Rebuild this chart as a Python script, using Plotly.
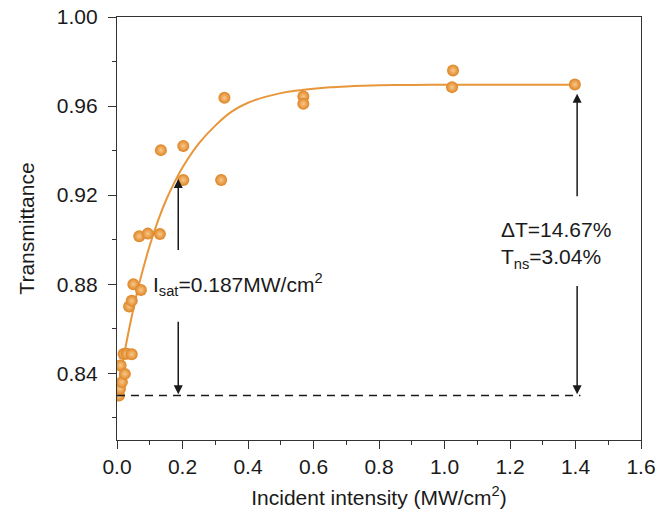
import plotly.graph_objects as go

# measured points
intensity = [0.006, 0.009, 0.011, 0.015, 0.024, 0.020, 0.030, 0.045, 0.037, 0.045,
             0.050, 0.073, 0.068, 0.094, 0.131, 0.134, 0.2025, 0.2025, 0.318, 0.328,
             0.569, 0.569, 1.023, 1.026, 1.398]
transmittance = [0.830, 0.833, 0.8435, 0.836, 0.8397, 0.8486, 0.8487, 0.8485, 0.870, 0.8725,
                 0.880, 0.8774, 0.9015, 0.9027, 0.9025, 0.9402, 0.9421, 0.9268, 0.9268, 0.9637,
                 0.9643, 0.961, 0.9685, 0.976, 0.9697]

# fit curve
fit_x = [0.0, 0.02, 0.04, 0.06, 0.08, 0.10, 0.125, 0.15, 0.175, 0.20, 0.25, 0.30,
         0.35, 0.40, 0.45, 0.50, 0.55, 0.60, 0.65, 0.70, 0.75, 0.80, 0.90, 1.00, 1.20, 1.41]
fit_y = [0.8296, 0.847, 0.862, 0.8755, 0.887, 0.8974, 0.9084, 0.9178, 0.9256, 0.9324, 0.9432, 0.9512,
         0.9575, 0.9615, 0.964, 0.9658, 0.967, 0.9678, 0.9684, 0.9688, 0.9691, 0.9693, 0.9695, 0.9696, 0.9696,
         0.9696]

baseline = 0.83
i_sat = 0.187
x_arrow = 1.405
x_dash_end = 1.415

orange_line = '#E8963A'
ink = '#1a1a1a'
font = 'Arial, Liberation Sans, sans-serif'
fsize = 21

fig = go.Figure()
fig.add_trace(go.Scatter(x=fit_x, y=fit_y, mode='lines',
                         line=dict(color=orange_line, width=2, shape='spline', smoothing=0.8),
                         hoverinfo='skip'))
fig.add_trace(go.Scatter(x=intensity, y=transmittance, mode='markers',
                         marker=dict(size=12, color='#DE8423', line=dict(width=0),
                                     gradient=dict(type='radial', color='#F9C88A'))))
fig.add_trace(go.Scatter(x=[0, x_dash_end], y=[baseline, baseline], mode='lines',
                         line=dict(color=ink, width=1.5, dash='8px,6px'), hoverinfo='skip'))

arrows = [
    (i_sat, 0.9272, i_sat, 0.8947),
    (i_sat, 0.8306, i_sat, 0.8638),
    (x_arrow, 0.9655, x_arrow, 0.9188),
    (x_arrow, 0.8306, x_arrow, 0.8798),
]
for x, y, ax, ay in arrows:
    fig.add_annotation(x=x, y=y, ax=ax, ay=ay, xref='x', yref='y', axref='x', ayref='y',
                       text='', showarrow=True, arrowhead=2, arrowsize=1.2, arrowwidth=1.5, arrowcolor=ink)

fig.add_annotation(x=0.105, y=0.8798, xref='x', yref='y', xanchor='left', yanchor='middle',
                   text='I<sub>sat</sub>=0.187MW/cm<sup>2</sup>', showarrow=False,
                   font=dict(size=fsize, color=ink, family=font))
fig.add_annotation(x=1.165, y=0.8975, xref='x', yref='y', xanchor='left', yanchor='middle',
                   text='ΔT=14.67%<br>T<sub>ns</sub>=3.04%', showarrow=False, align='left',
                   font=dict(size=fsize, color=ink, family=font))

axis_style = dict(showline=True, linecolor='#333333', linewidth=1.3, mirror=True, showgrid=False,
                  zeroline=False, ticks='outside', ticklen=8, tickwidth=1.3, tickcolor='#333333',
                  automargin=False, tickfont=dict(size=fsize, color=ink, family=font))

fig.update_xaxes(range=[0, 1.6], dtick=0.2, tick0=0, tickformat='.1f',
                 minor=dict(ticks='outside', ticklen=4, dtick=0.1, tickcolor='#333333', tickwidth=1.3),
                 title=dict(text='Incident intensity (MW/cm<sup>2</sup>)', standoff=12,
                            font=dict(size=fsize, color=ink, family=font)),
                 **axis_style)
fig.update_yaxes(range=[0.81, 1.0], dtick=0.04, tick0=0.84, tickformat='.2f', ticklabelstandoff=6,
                 minor=dict(ticks='outside', ticklen=4, dtick=0.02, tickcolor='#333333', tickwidth=1.3),
                 title=dict(text='Transmittance', standoff=16, font=dict(size=fsize, color=ink, family=font)),
                 **axis_style)

fig.update_layout(width=657, height=521, margin=dict(l=117, r=16, t=17, b=81),
                  plot_bgcolor='white', paper_bgcolor='white', showlegend=False,
                  font=dict(family=font, color=ink))

# drop the page's default body margin so the figure sits at the window's corner
fig.write_html("out.html", config={'displayModeBar': False},
               post_script="document.body.style.margin='0';")
